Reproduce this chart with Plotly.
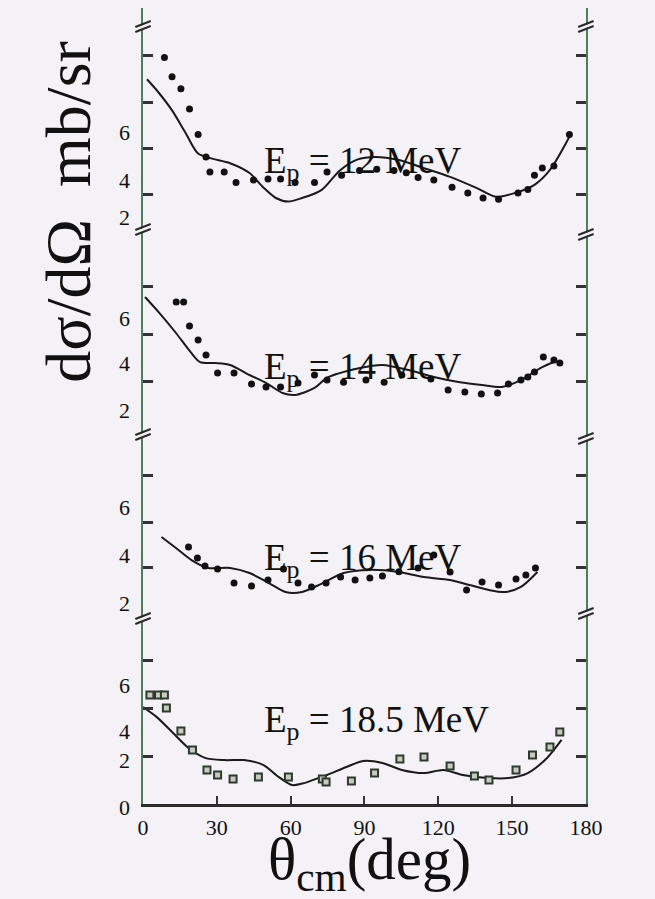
import plotly.graph_objects as go

W, H = 655, 899
SERIF = "Liberation Serif, Times New Roman, serif"

# ---------------- data (x = theta_cm in deg, y = dsigma/dOmega, mb/sr) ----------------
x_tick_vals = [0, 30, 60, 90, 120, 150, 180]
x_tick_text = ["0", "30", "60", "90", "120", "150", "180"]

# 12 MeV
pts12_x = [8.7, 11.8, 15.4, 18.9, 22.4, 25.6, 27.2, 33.0, 37.8, 44.9, 50.8, 55.9, 61.8, 69.7,
           74.8, 80.7, 88.0, 95.0, 102.0, 107.0, 111.8, 118.2, 125.6, 132.0, 138.2, 144.5,
           152.4, 156.4, 159.1, 162.3, 167.0, 173.3]
pts12_y = [9.1, 8.3, 7.8, 6.96, 5.9, 4.96, 4.33, 4.33, 3.9, 4.0, 4.04, 4.04, 3.9, 3.9,
           4.33, 4.2, 4.4, 4.45, 4.4, 4.3, 4.1, 4.0, 3.7, 3.46, 3.25, 3.2,
           3.46, 3.6, 4.2, 4.5, 4.58, 5.9]
fit12_x = [1.6, 5.5, 11.8, 17.3, 22.4, 27.6, 35.4, 43.3, 48.8, 54.0, 59.0, 64.6, 72.5,
           80.0, 87.0, 94.5, 104.0, 114.0, 124.8, 135.5, 143.4, 151.2, 159.1, 165.4, 173.3]
fit12_y = [8.2, 7.75, 6.9, 5.96, 5.1, 4.9, 4.7, 4.29, 3.7, 3.25, 3.1, 3.25, 3.58,
           4.4, 4.85, 4.96, 4.83, 4.5, 4.13, 3.67, 3.3, 3.46, 3.8, 4.42, 5.8]

# 14 MeV
pts14_x = [13.5, 16.5, 18.9, 22.4, 25.6, 30.3, 37.0, 44.1, 50.0, 55.9, 63.0, 69.7, 74.8,
           81.5, 90.6, 98.0, 105.2, 117.0, 124.0, 130.8, 137.5, 144.1, 148.5, 153.6, 156.4,
           159.1, 162.7, 167.0, 169.4]
pts14_y = [6.54, 6.54, 5.54, 4.96, 4.33, 3.58, 3.58, 3.13, 3.0, 3.0, 3.17, 3.5, 3.29,
           3.2, 3.29, 3.2, 3.5, 3.33, 2.88, 2.79, 2.71, 2.75, 3.13, 3.29, 3.42,
           3.63, 4.25, 4.13, 4.0]
fit14_x = [0.8, 6.7, 13.4, 19.3, 23.2, 29.1, 35.4, 43.3, 50.0, 56.7, 61.8, 69.7, 74.8,
           88.2, 97.3, 107.9, 118.2, 128.8, 137.8, 145.7, 153.6, 161.5, 167.0]
fit14_y = [6.75, 6.08, 5.25, 4.46, 4.04, 4.0, 3.92, 3.5, 3.17, 2.75, 2.67, 2.96, 3.38,
           3.79, 3.92, 3.71, 3.42, 3.2, 3.08, 3.0, 3.29, 3.79, 4.04]

# 16 MeV
pts16_x = [18.5, 22.1, 25.2, 30.3, 37.0, 44.1, 50.8, 57.1, 63.0, 68.5, 74.4, 80.3, 86.2,
           92.2, 97.3, 104.0, 111.8, 118.2, 124.8, 131.5, 137.8, 144.5, 151.6, 155.6, 159.5]
pts16_y = [4.33, 3.88, 3.54, 3.42, 2.83, 2.71, 2.96, 3.42, 2.83, 2.67, 2.83, 3.08, 2.96,
           3.04, 3.13, 3.3, 3.46, 4.0, 3.29, 2.54, 2.88, 2.75, 3.0, 3.17, 3.46]
fit16_x = [7.5, 13.4, 19.7, 26.4, 35.4, 43.3, 51.2, 57.9, 64.6, 72.5, 81.5, 92.2, 104.0,
           114.2, 124.8, 132.7, 140.6, 147.3, 153.6, 160.3]
fit16_y = [4.75, 4.29, 3.79, 3.46, 3.46, 3.25, 2.83, 2.46, 2.46, 2.8, 3.25, 3.38, 3.29,
           3.08, 2.96, 2.75, 2.54, 2.46, 2.67, 3.29]

# 18.5 MeV
pts185_x = [2.8, 6.3, 8.7, 9.5, 15.4, 20.1, 26.0, 30.3, 36.6, 46.9, 59.1, 72.9, 74.4,
            84.7, 94.1, 104.4, 114.2, 124.8, 134.7, 140.6, 151.6, 158.3, 165.4, 169.4]
pts185_y = [4.54, 4.54, 4.54, 4.0, 3.04, 2.25, 1.42, 1.21, 1.04, 1.13, 1.13, 1.04, 0.92,
            0.96, 1.29, 1.88, 1.96, 1.58, 1.17, 1.0, 1.42, 2.04, 2.38, 3.0]
fit185_x = [0.0, 5.5, 11.8, 18.5, 25.2, 33.1, 41.0, 48.8, 55.1, 60.6, 65.8, 72.5, 74.8,
            82.7, 89.4, 97.3, 105.2, 114.2, 122.1, 130.0, 140.6, 148.5, 156.4, 164.2, 170.1]
fit185_y = [4.04, 3.63, 3.0, 2.33, 1.92, 1.83, 1.83, 1.63, 1.13, 0.79, 0.88, 1.13, 1.21,
            1.54, 1.79, 1.71, 1.42, 1.29, 1.42, 1.21, 1.08, 1.08, 1.29, 1.92, 2.67]

panel_labels = ["12 MeV", "14 MeV", "16 MeV", "18.5 MeV"]

# ---------------- layout helpers (pixel -> paper) ----------------
def PX(px):
    return px / W

def PY(py):
    return 1 - py / H

X0, X1 = 142, 601          # plot left / right edge (px)
PXU = 24.0                 # px per y unit

# panel: (top px, bottom px, px of y=0)
panels = [
    (8, 228, 276),
    (228, 433, 459),
    (433, 617, 651),
    (617, 804, 804),
]
tick_sets = [[3.4, 5.3, 7.25, 9.2], [3.25, 5.17, 7.17], [3.46, 5.375, 7.33], [2, 4, 6]]

fig = go.Figure()

series = [
    (pts12_x, pts12_y, fit12_x, fit12_y, "circle"),
    (pts14_x, pts14_y, fit14_x, fit14_y, "circle"),
    (pts16_x, pts16_y, fit16_x, fit16_y, "circle"),
    (pts185_x, pts185_y, fit185_x, fit185_y, "square"),
]

for i, (px_, py_, fx, fy, sym) in enumerate(series):
    yref = "y" if i == 0 else f"y{i+1}"
    fig.add_trace(go.Scatter(x=fx, y=fy, mode="lines", yaxis=yref, xaxis="x",
                             line=dict(color="#1a1a1a", width=2, shape="spline", smoothing=0.8),
                             showlegend=False, hoverinfo="skip"))
    if sym == "circle":
        mk = dict(symbol="circle", size=7, color="#111111")
    else:
        mk = dict(symbol="square", size=7, color="#c9cbc0", line=dict(color="#2e3a30", width=2))
    fig.add_trace(go.Scatter(x=px_, y=py_, mode="markers", yaxis=yref, xaxis="x",
                             marker=mk, showlegend=False))

axis_col = "#4d7f5c"
layout = dict(
    width=W, height=H,
    margin=dict(l=0, r=0, t=0, b=0),
    paper_bgcolor="#f4f2f6", plot_bgcolor="rgba(0,0,0,0)",
    showlegend=False,
    xaxis=dict(domain=[PX(X0), PX(X1)], range=[0, 180], anchor="y4",
               tickvals=x_tick_vals, ticktext=x_tick_text,
               ticks="inside", ticklen=8, tickwidth=2, tickcolor="#333",
               showline=True, linecolor="#2a2a2a", linewidth=2.5,
               showgrid=False, zeroline=False,
               tickfont=dict(family=SERIF, size=22, color="#111"),
               ticklabelstandoff=2),
)
for i, (top, bot, zero) in enumerate(panels):
    key = "yaxis" if i == 0 else f"yaxis{i+1}"
    layout[key] = dict(domain=[PY(bot), PY(top)],
                       range=[(zero - bot) / PXU, (zero - top) / PXU],
                       anchor="x", showticklabels=False,
                       tickvals=tick_sets[i], ticks="inside", ticklen=10, tickwidth=2.5,
                       tickcolor="#333", showline=True, linecolor=axis_col, linewidth=2,
                       mirror="ticks", showgrid=False, zeroline=False)
fig.update_layout(**layout)

# ---------------- y tick label annotations ----------------
ylabels = [
    (133, "6"), (180, "4"), (218, "2"),
    (318, "6"), (363, "4"), (411, "2"),
    (507, "6"), (555, "4"), (603, "2"),
    (685, "6"), (731, "4"), (760, "2"), (807, "0"),
]
for ly, lt in ylabels:
    fig.add_annotation(x=PX(131), y=PY(ly), xref="paper", yref="paper", text=lt,
                       showarrow=False, xanchor="right", yanchor="middle",
                       font=dict(family=SERIF, size=22, color="#111"))

# ---------------- energy labels ----------------
elabel_y = [163, 369, 560, 722]
for ey, lab in zip(elabel_y, panel_labels):
    fig.add_annotation(x=PX(265), y=PY(ey), xref="paper", yref="paper",
                       text=f"E<sub>p</sub> = {lab}", showarrow=False,
                       xanchor="left", yanchor="middle",
                       font=dict(family=SERIF, size=37, color="#111"))

# ---------------- axis titles ----------------
fig.add_annotation(x=PX(64), y=PY(212), xref="paper", yref="paper",
                   text="dσ/dΩ  mb/sr", textangle=-90, showarrow=False,
                   xanchor="center", yanchor="middle",
                   font=dict(family=SERIF, size=64, color="#111"))
fig.add_annotation(x=PX(377), y=PY(863), xref="paper", yref="paper",
                   text="θ<sub>cm</sub>(deg)", showarrow=False,
                   xanchor="center", yanchor="middle",
                   font=dict(family=SERIF, size=59, color="#111"))

# ---------------- axis break marks ----------------
shapes = []
breaks = [(X0, 25), (X0, 228), (X0, 433), (X0, 617), (X1, 25), (X1, 233), (X1, 437), (X1, 612)]
for bx, by in breaks:
    shapes.append(dict(type="path", xref="paper", yref="paper",
                       path=f"M {PX(bx-8)},{PY(by+3)} L {PX(bx+8)},{PY(by-3)} "
                            f"L {PX(bx+8)},{PY(by+1)} L {PX(bx-8)},{PY(by+7)} Z",
                       fillcolor="#f4f2f6", line=dict(width=0), layer="above"))
    for off in (0, 5):
        shapes.append(dict(type="line", xref="paper", yref="paper",
                           x0=PX(bx-8), y0=PY(by+2+off), x1=PX(bx+8), y1=PY(by-4+off),
                           line=dict(color="#2a2a2a", width=2), layer="above"))
fig.update_layout(shapes=shapes)

fig.write_html("out.html")
